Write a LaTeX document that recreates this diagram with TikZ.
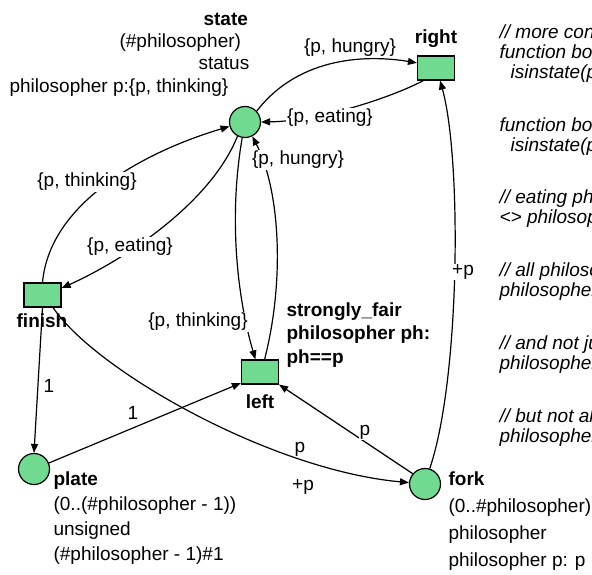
\documentclass[tikz,border=0pt]{standalone}
\usepackage{fontspec}
\setmainfont{Liberation Sans}
\usepackage{tikz}
\usetikzlibrary{arrows.meta}

\definecolor{placegreen}{RGB}{112,219,144}

\begin{document}
\begin{tikzpicture}[x=1pt,y=-1pt,>={Triangle[length=9pt,width=7pt]},line width=1.2pt,
  every node/.style={font=\fontsize{19}{23}\selectfont,inner sep=1pt},
  place/.style={circle,draw,fill=placegreen,minimum size=31pt,inner sep=0pt},
  trans/.style={rectangle,draw,fill=placegreen,minimum width=37pt,minimum height=24pt,inner sep=0pt},
  lbl/.style={fill=white},
  nm/.style={anchor=base,font=\fontsize{19}{23}\selectfont\bfseries},
  txt/.style={anchor=base west,align=left},
  cmt/.style={anchor=base west,align=left,font=\fontsize{19}{20}\selectfont\itshape}]
\useasboundingbox (0,0) rectangle (592,574);
\clip (0,0) rectangle (592,574);

\node[place] (st) at (245,122) {};
\node[trans] (rt) at (436,68) {};
\node[trans] (fin) at (42.5,295) {};
\node[trans] (lft) at (260,372) {};
\node[place] (plt) at (34,469) {};
\node[place] (frk) at (425,484) {};

% multi-line texts sit on the baseline of their last line
\node[nm,anchor=base west] (stname) at (202,25) {state};
\node[txt] (stdom) at (118,47) {(\#philosopher)};
\node[txt] (sttype) at (197,69) {status};
\node[txt] (stinit) at (8,92) {philosopher p:\{p, thinking\}};
\node[nm] (rtname) at (436,43) {right};
\node[nm] (finname) at (42,327) {finish};
\node[nm] (lftname) at (260,408) {left};
\node[txt,font=\fontsize{19}{23.5}\selectfont\bfseries] (lftgate) at (285,363)
  {strongly\_fair\\philosopher ph:\\ph==p};
\node[txt,font=\fontsize{19}{25}\selectfont] (pltinfo) at (52,560)
  {\textbf{plate}\\(0..(\#philosopher - 1))\\unsigned\\(\#philosopher - 1)\#1};
\node[txt,font=\fontsize{19}{26.7}\selectfont] (frkinfo) at (447,566)
  {\textbf{fork}\\(0..\#philosopher)\\philosopher\\philosopher p: p};

\draw[->] (st.43) .. controls (300,55) and (370,55) .. (rt.165)
  node[lbl] (e1) at (350,48) {\{p, hungry\}};
\draw[->] (rt.-135) .. controls (390,98) and (320,121) .. (st.east)
  node[lbl] (e2) at (330,118) {\{p, eating\}};
\draw[->] (st.-118) .. controls (210,205) and (120,262) .. (fin.20)
  node[lbl] (e3) at (130,247) {\{p, eating\}};
\draw[->] (fin.north) .. controls (50,200) and (150,150) .. (st.-164)
  node[lbl] (e4) at (87,182) {\{p, thinking\}};
\draw[->] (st.-100) .. controls (228,220) and (238,300) .. (lft.110)
  node[lbl] (e5) at (198,322) {\{p, thinking\}};
\draw[->] (lft.70) .. controls (285,280) and (280,190) .. (st.-63)
  node[lbl] (e6) at (298,160) {\{p, hungry\}};
\draw[->] (frk.73) .. controls (460,380) and (462,160) .. (rt.-72)
  node[lbl] (e7) at (463,272) {+p};
\draw[->] (fin.south) -- (plt.north) node[lbl] (e8) at (49,386) {1};
\draw[->] (fin.-50) .. controls (95,370) and (270,470) .. (frk.175)
  node[lbl] (e9) at (300,449) {p}
  node (e9b) at (303,487) {+p};
\draw[->] (plt.22) -- (lft.-150) node[lbl] (e10) at (133,413) {1};
\draw[->] (frk.140) -- (lft.south east) node[lbl] (e11) at (365,432) {p};

\node[cmt] (c1) at (498,78) {// more con\\function bo\\\hspace*{11pt}isinstate(p};
\node[cmt] (c2) at (498,151) {function bo\\\hspace*{11pt}isinstate(p};
\node[cmt] (c3) at (498,223) {// eating ph\\<> philosop};
\node[cmt] (c4) at (498,296) {// all philoso\\philosopher};
\node[cmt] (c5) at (498,369) {// and not ju\\philosopher};
\node[cmt] (c6) at (498,442) {// but not al\\philosopher};
\end{tikzpicture}
\end{document}
